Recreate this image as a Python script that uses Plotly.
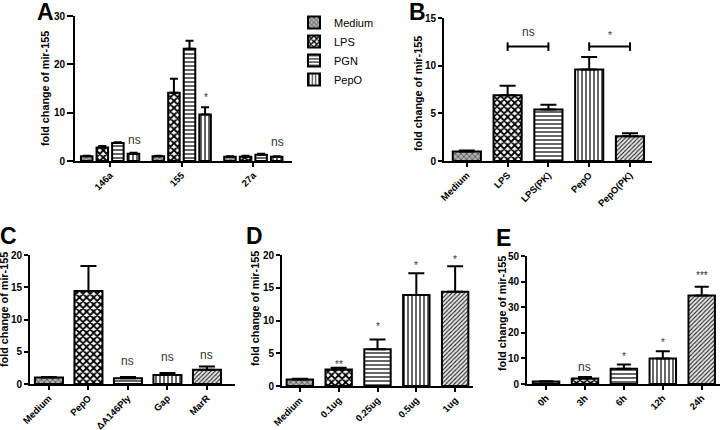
import plotly.graph_objects as go

# ---------------- data ----------------
a_groups = ["146a", "155", "27a"]
a_series = ["Medium", "LPS", "PGN", "PepO"]
a_medium = [1.0, 1.0, 0.9]
a_lps = [2.8, 14.1, 0.9]
a_pgn = [3.7, 23.2, 1.3]
a_pepo = [1.5, 9.6, 0.9]
a_medium_err = [0.1, 0.1, 0.1]
a_lps_err = [0.3, 2.9, 0.2]
a_pgn_err = [0.2, 1.7, 0.2]
a_pepo_err = [0.2, 1.5, 0.1]

b_cats = ["Medium", "LPS", "LPS(PK)", "PepO", "PepO(PK)"]
b_vals = [1.0, 6.9, 5.4, 9.6, 2.6]
b_err = [0.1, 1.0, 0.5, 1.3, 0.3]

c_cats = ["Medium", "PepO", "\u0394A146Ply", "Gap", "MarR"]
c_vals = [1.0, 14.4, 0.9, 1.4, 2.2]
c_err = [0.1, 3.9, 0.2, 0.3, 0.5]

d_cats = ["Medium", "0.1ug", "0.25ug", "0.5ug", "1ug"]
d_vals = [1.0, 2.5, 5.6, 13.9, 14.4]
d_err = [0.1, 0.3, 1.5, 3.3, 3.9]

e_cats = ["0h", "3h", "6h", "12h", "24h"]
e_vals = [1.0, 2.1, 6.0, 10.0, 34.6]
e_err = [0.1, 0.6, 1.6, 2.8, 3.4]

a_sig = ["ns", "*", "ns"]
a_sig_y = [4.3, 13.7, 3.9]
b_sig = ["ns", "*"]
b_sig_pairs = [(1, 2), (3, 4)]
b_bracket_y = 12.0
c_sig = ["", "*", "ns", "ns", "ns"]
c_sig_y = [0, 20.5, 3.6, 4.2, 4.5]
d_sig = ["", "**", "*", "*", "*"]
d_sig_y = [0, 3.8, 9.5, 18.9, 19.8]
e_sig = ["", "ns", "*", "*", "***"]
e_sig_y = [0, 6.6, 12.1, 17.2, 43.4]

# ---------------- styles ----------------
FONT = "Arial, Liberation Sans, sans-serif"
PAT = {
    "medium": dict(shape="x", size=4, solidity=0.3, fgcolor="#333", bgcolor="#b0b0b0"),
    "checker": dict(shape="x", size=5, solidity=0.6, fgcolor="#000", bgcolor="#fff"),
    "horiz": dict(shape="-", size=4, solidity=0.3, fgcolor="#000", bgcolor="#fff"),
    "vert": dict(shape="|", size=4, solidity=0.3, fgcolor="#000", bgcolor="#fff"),
    "diag": dict(shape="/", size=3, solidity=0.35, fgcolor="#222", bgcolor="#e8e8e8"),
}
seq = ["medium", "checker", "horiz", "vert", "diag"]


def pat_list(keys):
    out = {}
    for k in ["shape", "size", "solidity", "fgcolor", "bgcolor"]:
        out[k] = [PAT[x][k] for x in keys]
    return out


fig = go.Figure()

# Panel A grouped bars
a_vals_all = [a_medium, a_lps, a_pgn, a_pepo]
a_err_all = [a_medium_err, a_lps_err, a_pgn_err, a_pepo_err]
a_pats = ["medium", "checker", "horiz", "vert"]
for name, vals, errs, pk in zip(a_series, a_vals_all, a_err_all, a_pats):
    fig.add_trace(go.Bar(
        x=a_groups, y=vals, name=name, xaxis="x", yaxis="y",
        marker=dict(color="white", line=dict(color="black", width=2), pattern=PAT[pk]),
        error_y=dict(type="data", array=errs, symmetric=False, arrayminus=[0] * len(errs),
                     color="black", thickness=2, width=4),
        showlegend=True,
    ))


def add_single(cats, vals, errs, xa, ya, pats, width, capw):
    fig.add_trace(go.Bar(
        x=cats, y=vals, xaxis=xa, yaxis=ya, width=width, showlegend=False,
        marker=dict(color="white", line=dict(color="black", width=2), pattern=pat_list(pats)),
        error_y=dict(type="data", array=errs, symmetric=False, arrayminus=[0] * len(errs),
                     color="black", thickness=2, width=capw),
    ))


add_single(b_cats, b_vals, b_err, "x2", "y2", seq, 0.69, 8)
add_single(c_cats, c_vals, c_err, "x3", "y3", seq, 0.71, 8)
add_single(d_cats, d_vals, d_err, "x4", "y4", seq, 0.68, 8)
add_single(e_cats, e_vals, e_err, "x5", "y5", seq, 0.68, 7)


def px_x(p):
    return p / 720.0


def px_y(p):
    return 1 - p / 430.0


def xaxis(domain, rng, anchor):
    return dict(type="category", domain=domain, range=rng, anchor=anchor, showline=True, linewidth=2,
                linecolor="black", ticks="outside", ticklen=4, tickwidth=2, tickcolor="black",
                tickangle=-45, ticklabelstandoff=-1,
                tickfont=dict(family=FONT, size=9.5, color="black", weight="bold"),
                showgrid=False, zeroline=False, fixedrange=True, automargin=False)


def yaxis(domain, rng, dtick, anchor, tl=4):
    return dict(domain=domain, range=rng, dtick=dtick, anchor=anchor, showline=True, linewidth=2,
                linecolor="black", ticks="outside", ticklen=tl, tickwidth=2, tickcolor="black",
                tickfont=dict(family=FONT, size=10, color="black", weight="bold"),
                showgrid=False, zeroline=False, fixedrange=True, automargin=False)


fig.update_layout(
    template="none",
    width=720, height=430, margin=dict(l=0, r=0, t=0, b=0, pad=0, autoexpand=False),
    paper_bgcolor="white", plot_bgcolor="white",
    barmode="group", bargap=0.13, bargroupgap=0.26,
    font=dict(family=FONT, color="black"),
    xaxis=xaxis([px_x(75), px_x(292)], [-0.49, 2.54], "y"),
    yaxis=yaxis([px_y(161), px_y(16)], [0, 30], 10, "x", 6),
    xaxis2=xaxis([px_x(444), px_x(652)], [-0.56, 4.54], "y2"),
    yaxis2=yaxis([px_y(161), px_y(18)], [0, 15], 5, "x2"),
    xaxis3=xaxis([px_x(30), px_x(235)], [-0.48, 4.71], "y3"),
    yaxis3=yaxis([px_y(384), px_y(255)], [0, 20], 5, "x3"),
    xaxis4=xaxis([px_x(282), px_x(473)], [-0.46, 4.46], "y4"),
    yaxis4=yaxis([px_y(386), px_y(255)], [0, 20], 5, "x4"),
    xaxis5=xaxis([px_x(527), 1.0], [-0.49, 4.47], "y5"),
    yaxis5=yaxis([px_y(384), px_y(256)], [0, 50], 10, "x5"),
    legend=dict(x=px_x(294), y=px_y(8), xanchor="left", yanchor="top",
                font=dict(family=FONT, size=11, color="black"), bgcolor="rgba(0,0,0,0)",
                tracegroupgap=0, itemwidth=30),
)

ann = []
# panel letters
for txt, x, y in [("A", 45, 12), ("B", 417, 12), ("C", 8, 236), ("D", 254, 236), ("E", 503, 238)]:
    ann.append(dict(text=txt, x=px_x(x), y=px_y(y), xref="paper", yref="paper", showarrow=False,
                    xanchor="center", yanchor="middle",
                    font=dict(family=FONT, size=23, color="black", weight="bold")))
# y titles
for x, y in [(45, 89), (418, 94), (4, 310), (255, 309), (502, 314)]:
    ann.append(dict(text="fold change of mir-155", x=px_x(x), y=px_y(y), xref="paper", yref="paper",
                    showarrow=False, textangle=-90, xanchor="center", yanchor="middle",
                    font=dict(family=FONT, size=10.8, color="black", weight="bold")))


def sig(txt, x, y, xr, yr):
    star = txt.startswith("*")
    return dict(text=txt, x=x, y=y, xref=xr, yref=yr, showarrow=False, xanchor="center",
                yanchor="middle", yshift=-3 if star else 0,
                font=dict(family=FONT, size=10 if star else 12, color="#333"))


for i, (t, y) in enumerate(zip(a_sig, a_sig_y)):
    ann.append(sig(t, i + 0.34, y, "x", "y"))
for t, (i, j) in zip(b_sig, b_sig_pairs):
    ann.append(sig(t, (i + j) / 2, 13.5, "x2", "y2"))
for i, (t, y) in enumerate(zip(c_sig, c_sig_y)):
    if t:
        ann.append(sig(t, i, y, "x3", "y3"))
for i, (t, y) in enumerate(zip(d_sig, d_sig_y)):
    if t:
        ann.append(sig(t, i, y, "x4", "y4"))
for i, (t, y) in enumerate(zip(e_sig, e_sig_y)):
    if t:
        ann.append(sig(t, i, y, "x5", "y5"))
fig.update_layout(annotations=ann)

shapes = []
for (i, j) in b_sig_pairs:
    shapes.append(dict(type="line", xref="x2", yref="y2", x0=i, x1=j, y0=b_bracket_y, y1=b_bracket_y,
                       line=dict(color="black", width=2)))
    for k in (i, j):
        shapes.append(dict(type="line", xref="x2", yref="y2", x0=k, x1=k, y0=b_bracket_y - 0.45,
                           y1=b_bracket_y + 0.45, line=dict(color="black", width=2)))
fig.update_layout(shapes=shapes)

fig.write_html("out.html", config={"displayModeBar": False},
               post_script="document.body.style.margin='0';document.body.style.overflow='hidden';")
